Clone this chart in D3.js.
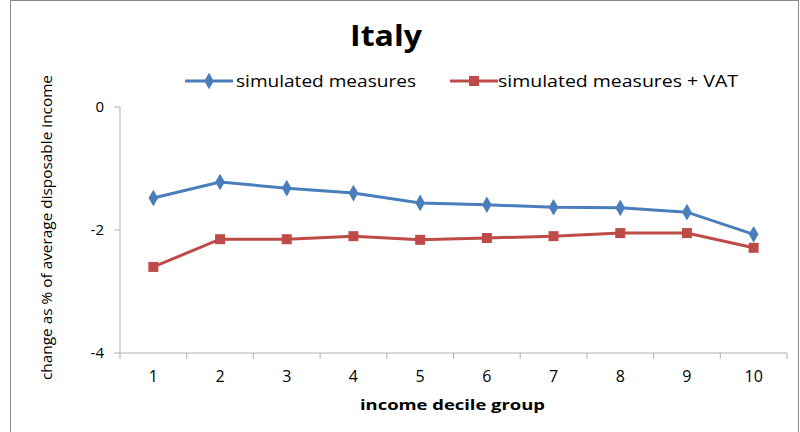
<!DOCTYPE html>
<html><head><meta charset="utf-8">
<script src="https://cdn.jsdelivr.net/npm/d3@7"></script>
<style>body{margin:0;background:#fff}svg{font-family:"Open Sans","DejaVu Sans",sans-serif}</style>
</head><body><svg id="c" width="800" height="432"></svg>
<script>
var deciles = [1,2,3,4,5,6,7,8,9,10];
var simulated = [-1.48,-1.22,-1.32,-1.40,-1.56,-1.59,-1.63,-1.64,-1.71,-2.07];
var simulatedVat = [-2.60,-2.15,-2.15,-2.10,-2.16,-2.13,-2.10,-2.05,-2.05,-2.29];
var yTicks = [0,-2,-4];

var svg = d3.select("#c");
svg.append("rect").attr("x",10.5).attr("y",0.5).attr("width",788).attr("height",440).attr("fill","none").attr("stroke","#888");

var x = d3.scaleBand().domain(deciles).range([120,787]);
var y = d3.scaleLinear().domain([-4,0]).range([353,107]);
var axc = "#b0b0b0";

function stretch(t,w){ return t.attr("textLength",w).attr("lengthAdjust","spacingAndGlyphs"); }

svg.append("line").attr("x1",120).attr("x2",120).attr("y1",107).attr("y2",353).attr("stroke",axc);
yTicks.forEach(function(t){
  svg.append("line").attr("x1",114).attr("x2",120).attr("y1",y(t)).attr("y2",y(t)).attr("stroke",axc);
  svg.append("text").attr("x",104).attr("y",y(t)+5).attr("text-anchor","end").attr("font-size",15).text(t===0?"0":"-"+Math.abs(t));
});
svg.append("line").attr("x1",120).attr("x2",787).attr("y1",353).attr("y2",353).attr("stroke",axc);
deciles.forEach(function(d){
  svg.append("line").attr("x1",x(d)+x.bandwidth()).attr("x2",x(d)+x.bandwidth()).attr("y1",353).attr("y2",359).attr("stroke",axc);
  svg.append("text").attr("x",x(d)+x.bandwidth()/2).attr("y",382).attr("text-anchor","middle").attr("font-size",16).text(d);
});
svg.append("line").attr("x1",120).attr("x2",120).attr("y1",353).attr("y2",359).attr("stroke",axc);

stretch(svg.append("text").attr("x",360).attr("y",410).attr("font-size",15).attr("font-weight","bold").text("income decile group"),185);
stretch(svg.append("text").attr("transform","translate(52,380) rotate(-90)").attr("font-size",14).text("change as % of average disposable income"),305);
stretch(svg.append("text").attr("x",350).attr("y",46).attr("font-size",28).attr("font-weight","bold").text("Italy"),72);

var cx = function(d){return x(d)+x.bandwidth()/2;};
function series(vals,color,shape){
  var line = d3.line().x(function(v,i){return cx(deciles[i]);}).y(function(v){return y(v);});
  svg.append("path").attr("d",line(vals)).attr("fill","none").attr("stroke",color).attr("stroke-width",3);
  vals.forEach(function(v,i){ marker(cx(deciles[i]),y(v),color,shape); });
}
function marker(px,py,color,shape){
  if(shape==="diamond") svg.append("path").attr("d",d3.symbol(d3.symbolDiamond,80)()).attr("transform","translate("+px+","+py+")").attr("fill",color);
  else svg.append("rect").attr("x",px-5).attr("y",py-5).attr("width",10).attr("height",10).attr("fill",color);
}
series(simulated,"#4a7ebb","diamond");
series(simulatedVat,"#be4b48","square");

svg.append("line").attr("x1",185).attr("x2",233).attr("y1",81).attr("y2",81).attr("stroke","#4a7ebb").attr("stroke-width",3);
marker(209,81,"#4a7ebb","diamond");
stretch(svg.append("text").attr("x",236).attr("y",87).attr("font-size",16).text("simulated measures"),180);
svg.append("line").attr("x1",450).attr("x2",498).attr("y1",81).attr("y2",81).attr("stroke","#be4b48").attr("stroke-width",3);
marker(474,81,"#be4b48","square");
stretch(svg.append("text").attr("x",498).attr("y",87).attr("font-size",16).text("simulated measures + VAT"),240);
</script></body></html>
